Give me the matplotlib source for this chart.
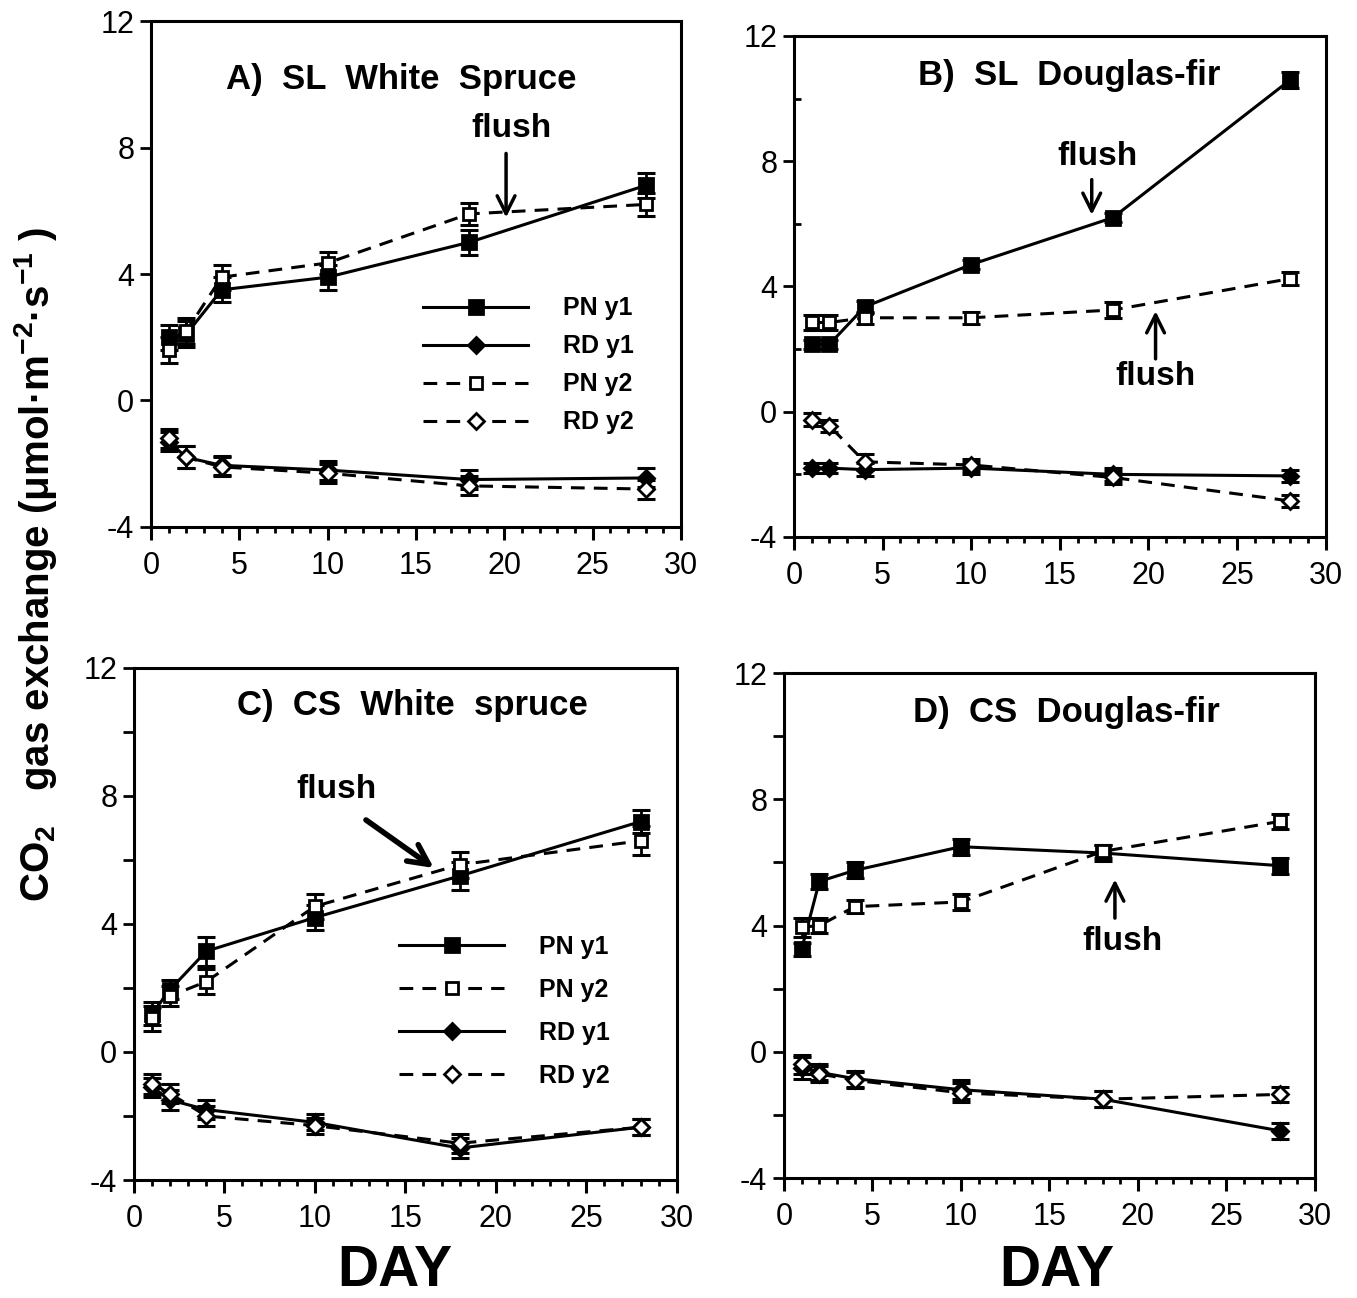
import matplotlib
matplotlib.use("Agg")
import matplotlib.pyplot as plt
from matplotlib.ticker import MultipleLocator
from matplotlib.lines import Line2D

plt.rcParams['font.family'] = ['Liberation Sans', 'DejaVu Sans']
plt.rcParams['mathtext.fontset'] = 'custom'
plt.rcParams['mathtext.rm'] = 'Liberation Sans:bold'
plt.rcParams['mathtext.default'] = 'rm'
plt.rcParams['axes.unicode_minus'] = False

days = [1, 2, 4, 10, 18, 28]

# A) SL white spruce
a_pn1 = [2.0, 2.1, 3.5, 3.9, 5.0, 6.8]
a_pn1_err = [0.4, 0.4, 0.4, 0.4, 0.4, 0.4]
a_pn2 = [1.6, 2.2, 3.9, 4.35, 5.9, 6.2]
a_pn2_err = [0.4, 0.4, 0.4, 0.35, 0.35, 0.35]
a_rd1 = [-1.3, -1.8, -2.05, -2.2, -2.5, -2.45]
a_rd1_err = [0.3, 0.35, 0.3, 0.3, 0.3, 0.3]
a_rd2 = [-1.2, -1.8, -2.1, -2.3, -2.7, -2.8]
a_rd2_err = [0.3, 0.35, 0.3, 0.3, 0.3, 0.3]

# B) SL Douglas-fir
b_pn1 = [2.15, 2.15, 3.35, 4.7, 6.2, 10.6]
b_pn1_err = [0.15, 0.15, 0.2, 0.15, 0.15, 0.25]
b_pn2 = [2.85, 2.85, 3.0, 3.0, 3.25, 4.25]
b_pn2_err = [0.25, 0.25, 0.2, 0.2, 0.25, 0.2]
b_rd1 = [-1.8, -1.8, -1.85, -1.8, -2.0, -2.05]
b_rd1_err = [0.15, 0.15, 0.2, 0.2, 0.2, 0.2]
b_rd2 = [-0.25, -0.45, -1.6, -1.7, -2.1, -2.85]
b_rd2_err = [0.2, 0.2, 0.25, 0.2, 0.2, 0.2]

# C) CS white spruce
c_pn1 = [1.2, 1.95, 3.15, 4.2, 5.5, 7.2]
c_pn1_err = [0.35, 0.3, 0.45, 0.4, 0.45, 0.35]
c_pn2 = [1.05, 1.75, 2.2, 4.55, 5.85, 6.6]
c_pn2_err = [0.4, 0.3, 0.4, 0.4, 0.4, 0.45]
c_rd1 = [-1.1, -1.5, -1.8, -2.2, -3.0, -2.35]
c_rd1_err = [0.3, 0.3, 0.3, 0.25, 0.3, 0.25]
c_rd2 = [-1.0, -1.3, -2.0, -2.3, -2.85, -2.35]
c_rd2_err = [0.3, 0.3, 0.3, 0.25, 0.3, 0.25]

# D) CS Douglas-fir
d_pn1 = [3.25, 5.4, 5.75, 6.5, 6.3, 5.9]
d_pn1_err = [0.2, 0.25, 0.25, 0.25, 0.25, 0.25]
d_pn2 = [3.95, 4.0, 4.6, 4.75, 6.35, 7.3]
d_pn2_err = [0.3, 0.25, 0.2, 0.25, 0.2, 0.25]
d_rd1 = [-0.5, -0.65, -0.85, -1.2, -1.5, -2.5]
d_rd1_err = [0.35, 0.25, 0.25, 0.3, 0.25, 0.25]
d_rd2 = [-0.4, -0.7, -0.9, -1.3, -1.5, -1.35]
d_rd2_err = [0.3, 0.25, 0.25, 0.3, 0.25, 0.25]

series_labels = ['PN y1', 'PN y2', 'RD y1', 'RD y2']

DASH = (0, (4.5, 3))
styles = {
    'PN y1': dict(ls='-', marker='s', ms=10, mfc='black'),
    'PN y2': dict(ls=DASH, marker='s', ms=9, mfc='white'),
    'RD y1': dict(ls='-', marker='D', ms=8, mfc='black'),
    'RD y2': dict(ls=DASH, marker='D', ms=8, mfc='white'),
}


def draw_series(ax, values, errors, label):
    st = styles[label]
    ax.errorbar(days, values, yerr=errors, fmt='none', ecolor='black',
                elinewidth=2, capsize=6.5, capthick=2.2, zorder=3)
    ax.plot(days, values, color='black', lw=2.2, ls=st['ls'], marker=st['marker'],
            ms=st['ms'], mfc=st['mfc'], mec='black', mew=2, zorder=4)


def legend_handle(label):
    st = styles[label]
    return Line2D([], [], color='black', lw=2.2, ls=st['ls'], marker=st['marker'],
                  ms=st['ms'], mfc=st['mfc'], mec='black', mew=2)


def setup_axes(ax, minor_y):
    ax.set_xlim(0, 30)
    ax.set_ylim(-4, 12)
    ax.xaxis.set_major_locator(MultipleLocator(5))
    ax.xaxis.set_minor_locator(MultipleLocator(1))
    ax.yaxis.set_major_locator(MultipleLocator(4))
    for s in ax.spines.values():
        s.set_linewidth(2.2)
    ax.tick_params(axis='x', which='major', direction='out', length=9, width=2.2,
                   labelsize=22, pad=8)
    ax.tick_params(axis='x', which='minor', direction='out', length=4.5, width=2)
    ax.tick_params(axis='y', which='major', direction='out', length=8, width=2,
                   labelsize=22, pad=4)
    if minor_y is not None:
        ax.yaxis.set_minor_locator(MultipleLocator(2))
        ax.tick_params(axis='y', which='minor', direction=minor_y,
                       length=8 if minor_y == 'out' else 5, width=2)


fig = plt.figure(figsize=(13.57, 12.98), dpi=100)

ax_a = fig.add_axes([0.1113, 0.594, 0.3905, 0.3898])
ax_b = fig.add_axes([0.585, 0.5863, 0.392, 0.386])
ax_c = fig.add_axes([0.0987, 0.0909, 0.400, 0.3945])
ax_d = fig.add_axes([0.5777, 0.0924, 0.3913, 0.389])

panels = [
    (ax_a, [a_pn1, a_pn2, a_rd1, a_rd2], [a_pn1_err, a_pn2_err, a_rd1_err, a_rd2_err],
     'A)  SL  White  Spruce', (0.472, 0.885), None),
    (ax_b, [b_pn1, b_pn2, b_rd1, b_rd2], [b_pn1_err, b_pn2_err, b_rd1_err, b_rd2_err],
     'B)  SL  Douglas-fir', (0.517, 0.922), 'in'),
    (ax_c, [c_pn1, c_pn2, c_rd1, c_rd2], [c_pn1_err, c_pn2_err, c_rd1_err, c_rd2_err],
     'C)  CS  White  spruce', (0.514, 0.926), 'out'),
    (ax_d, [d_pn1, d_pn2, d_rd1, d_rd2], [d_pn1_err, d_pn2_err, d_rd1_err, d_rd2_err],
     'D)  CS  Douglas-fir', (0.531, 0.923), 'out'),
]

for ax, vals, errs, title, tpos, minor_y in panels:
    setup_axes(ax, minor_y)
    for v, e, lab in zip(vals, errs, series_labels):
        draw_series(ax, v, e, lab)
    ax.text(tpos[0], tpos[1], title, transform=ax.transAxes, ha='center', va='center',
            fontsize=25, fontweight='bold')

# legends (different order in A and C)
order_a = ['PN y1', 'RD y1', 'PN y2', 'RD y2']
ax_a.legend([legend_handle(l) for l in order_a], order_a, loc='upper left',
            bbox_to_anchor=(0.514, 0.456), frameon=False, borderpad=0, borderaxespad=0,
            handlelength=4.2, handletextpad=1.4, labelspacing=0.56, numpoints=1,
            prop=dict(weight='bold', size=18))
order_c = ['PN y1', 'PN y2', 'RD y1', 'RD y2']
ax_c.legend([legend_handle(l) for l in order_c], order_c, loc='upper left',
            bbox_to_anchor=(0.489, 0.478), frameon=False, borderpad=0, borderaxespad=0,
            handlelength=4.2, handletextpad=1.4, labelspacing=0.76, numpoints=1,
            prop=dict(weight='bold', size=18))

# leaf flush annotations
arrow = dict(arrowstyle='->', lw=2.5, color='black', mutation_scale=32)
ax_a.annotate('', xy=(20.1, 5.7), xytext=(20.1, 7.9), arrowprops=arrow)
ax_a.text(20.4, 8.6, 'flush', ha='center', va='center', fontsize=24, fontweight='bold')

ax_b.annotate('', xy=(16.8, 6.2), xytext=(16.8, 7.5), arrowprops=arrow)
ax_b.text(17.1, 8.15, 'flush', ha='center', va='center', fontsize=24, fontweight='bold')
ax_b.annotate('', xy=(20.4, 3.3), xytext=(20.4, 1.6), arrowprops=arrow)
ax_b.text(20.4, 1.13, 'flush', ha='center', va='center', fontsize=24, fontweight='bold')

ax_c.annotate('', xy=(16.7, 5.7), xytext=(12.7, 7.3),
              arrowprops=dict(arrowstyle='->', lw=4, color='black', mutation_scale=36))
ax_c.text(11.2, 8.2, 'flush', ha='center', va='center', fontsize=24, fontweight='bold')

ax_d.annotate('', xy=(18.7, 5.55), xytext=(18.7, 4.15), arrowprops=arrow)
ax_d.text(19.15, 3.5, 'flush', ha='center', va='center', fontsize=24, fontweight='bold')

# shared axis labels
fig.text(0.026, 0.565, r'CO$_2$   gas exchange (μmol·m$^{-2}$·s$^{-1}$ )', rotation=90,
         ha='center', va='center', fontsize=29, fontweight='bold')
fig.text(0.291, 0.021, 'DAY', ha='center', va='center', fontsize=41, fontweight='bold')
fig.text(0.779, 0.021, 'DAY', ha='center', va='center', fontsize=41, fontweight='bold')

fig.savefig('out.png', dpi=100)
